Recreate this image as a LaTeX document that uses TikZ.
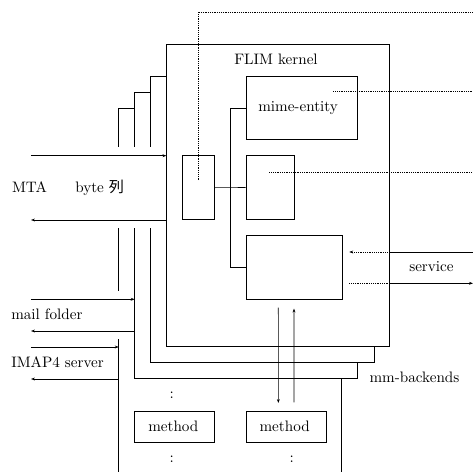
\documentclass[tikz,border=0pt]{standalone}
\usepackage{fontspec}
\newfontfamily\cjk{Noto Sans CJK JP}
\usetikzlibrary{fit,arrows.meta,calc}
\begin{document}
\begin{tikzpicture}[
  x=0.66pt, y=-0.66pt,
  lbl/.style={anchor=base west, inner sep=0pt},
  box/.style={draw, inner sep=0pt},
  dots/.style={dash pattern=on 0.45pt off 0.75pt},
  arr/.style={-{Stealth[length=2.6pt,width=1.9pt]}}
]
\useasboundingbox (0,0) rectangle (473,472);
\node[box, fit={(166.7,44)(389,346.7)}] (kernel) {};
\draw (150.7,146.7) -- (150.7,76) -- (kernel.west |- 0,76);
\draw (150.7,228) -- (150.7,362.7) -- (374,362.7) -- (374,346.7);
\draw (134.7,146.7) -- (134.7,92) -- (150.7,92);
\draw (134.7,228) -- (134.7,378.7) -- (357.7,378.7) -- (357.7,362.7);
\draw (118.7,146.7) -- (118.7,108) -- (134.7,108);
\draw (118.7,228) -- (118.7,291);
\draw (118.7,339.3) -- (118.7,472);
\draw (341.7,378.7) -- (341.7,472);
\node[box, fit={(182.7,155.7)(214.3,219.7)}] (conv) {};
\node[box, fit={(246,76)(357.7,139.7)}] (mime) {};
\node[box, fit={(246,155.7)(294,219.3)}] (mid) {};
\node[box, fit={(246,235.7)(342,299.3)}] (svc) {};
\node[box, fit={(134.7,411)(214.3,442.7)}] (meth1) {};
\node[box, fit={(246,411)(326.7,442.7)}] (meth2) {};
\coordinate (bus) at (230.7,0);
\draw (mime.west) -| (bus |- svc.west) -- (svc.west);
\draw (conv.east) -- (mid.west);
\coordinate (mta-in) at (31,155.7);
\coordinate (mta-out) at (31,220);
\coordinate (mf-in) at (31,299.3);
\coordinate (mf-out) at (31,331);
\coordinate (im-in) at (31,347);
\coordinate (im-out) at (31,379);
\draw[arr] (mta-in) -- (mta-in -| kernel.west);
\draw[arr] (mta-out -| kernel.west) -- (mta-out);
\draw[arr] (mf-in) -- (134.7,299.3);
\draw[arr] (134.7,331) -- (mf-out);
\draw[arr] (im-in) -- (118.7,347);
\draw[arr] (118.7,379) -- (im-out);
\draw[dots] (198,180) -- (198,12) -- (473,12);
\draw[dots] (333.3,91.3) -- (473,91.3);
\draw[dots] (269.3,172) -- (473,172);
\coordinate (sv-in) at (473,252);
\coordinate (sv-out) at (473,283.3);
\draw (sv-in) -- (sv-in -| kernel.east);
\draw[dots, arr] (sv-in -| kernel.east) -- (349.3,252);
\draw[dots] (349.3,283.3) -- (sv-out -| kernel.east);
\draw[arr] (sv-out -| kernel.east) -- (sv-out);
\draw[arr] ($(svc.south)+(-15.7,8)$) -- ($(meth2.north)+(-8,-7.7)$);
\draw[arr] ($(meth2.north)+(7.7,-8.3)$) -- ($(svc.south)+(0,9)$);
\node[lbl] (mta) at (11.7,192.7) {MTA};
\node[lbl] (byte) at (75,192.7) {byte {\cjk 列}};
\node[lbl] (mailf) at (11,319.3) {mail folder};
\node[lbl] (imap) at (11,367.3) {IMAP4 server};
\node[lbl] (flim) at (234,64) {FLIM kernel};
\node[lbl] (mimelbl) at (258,111.7) {mime-entity};
\node[lbl] (svclbl) at (409,271.7) {service};
\node[lbl] (mmb) at (369.3,382.7) {mm-backends};
\node[lbl] (m1lbl) at (148,431) {method};
\node[lbl] (m2lbl) at (259.3,431) {method};
\node[inner sep=0pt] (dot1) at (171.7,395.7) {:};
\node[inner sep=0pt] (dot2) at (171.7,459.3) {:};
\node[inner sep=0pt] (dot3) at (291.7,459.3) {:};
\end{tikzpicture}
\end{document}
